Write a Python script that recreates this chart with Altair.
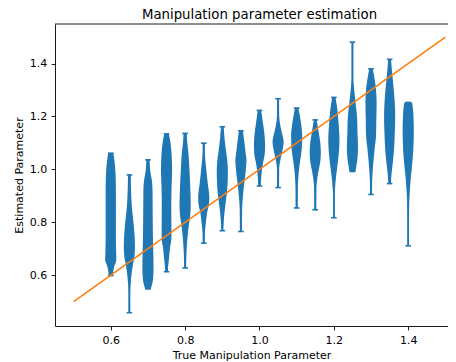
import altair as alt
import pandas as pd

# ---- data ----
TITLE = "Manipulation parameter estimation"

positions = [0.6, 0.65, 0.7, 0.75, 0.8, 0.85, 0.9, 0.95, 1.0,
             1.05, 1.1, 1.15, 1.2, 1.25, 1.3, 1.35, 1.4]

# estimated-parameter levels along each violin (top to bottom)
violin_y = [
    [1.061, 1.034, 0.985, 0.921, 0.733, 0.685, 0.658, 0.632, 0.609, 0.598],
    [0.979, 0.921, 0.858, 0.797, 0.760, 0.708, 0.669, 0.647, 0.609, 0.572, 0.534, 0.458],
    [1.036, 0.996, 0.959, 0.921, 0.827, 0.733, 0.677, 0.621, 0.583, 0.558, 0.548],
    [1.134, 1.109, 1.060, 0.996, 0.932, 0.857, 0.771, 0.733, 0.707, 0.658, 0.621, 0.613],
    [1.136, 1.109, 1.060, 0.996, 0.932, 0.872, 0.835, 0.808, 0.760, 0.707, 0.658, 0.627],
    [1.099, 1.060, 1.009, 0.947, 0.895, 0.872, 0.835, 0.782, 0.760, 0.721],
    [1.161, 1.116, 1.065, 1.027, 0.990, 0.952, 0.915, 0.865, 0.816, 0.778, 0.768],
    [1.146, 1.090, 1.053, 1.034, 1.015, 0.977, 0.940, 0.902, 0.854, 0.765],
    [1.223, 1.178, 1.140, 1.109, 1.083, 1.046, 1.027, 0.990, 0.952, 0.937],
    [1.267, 1.203, 1.166, 1.129, 1.104, 1.079, 1.054, 1.029, 1.004, 0.931],
    [1.232, 1.192, 1.154, 1.129, 1.079, 1.030, 0.992, 0.955, 0.929, 0.854],
    [1.187, 1.142, 1.104, 1.066, 1.029, 0.991, 0.954, 0.929, 0.847],
    [1.272, 1.222, 1.165, 1.115, 1.079, 1.027, 0.977, 0.940, 0.902, 0.817],
    [1.481, 1.342, 1.304, 1.253, 1.192, 1.128, 1.090, 1.041, 1.015, 0.992],
    [1.380, 1.342, 1.304, 1.253, 1.192, 1.128, 1.079, 1.027, 0.977, 0.952, 0.905],
    [1.416, 1.372, 1.322, 1.259, 1.196, 1.135, 1.071, 1.021, 0.984, 0.952, 0.946],
    [1.253, 1.222, 1.184, 1.146, 1.071, 1.021, 0.971, 0.921, 0.871, 0.808, 0.711],
]

# relative violin width (1 = widest) at those levels
violin_w = [
    [0.48, 0.65, 0.85, 0.92, 0.92, 0.97, 1.0, 0.6, 0.42, 0.4],
    [0.25, 0.3, 0.45, 0.75, 0.9, 1.0, 0.9, 0.7, 0.42, 0.25, 0.15, 0.15],
    [0.3, 0.4, 0.7, 0.82, 0.85, 0.9, 0.97, 1.0, 0.9, 0.65, 0.5],
    [0.4, 0.65, 0.9, 1.0, 0.9, 0.85, 0.88, 0.85, 0.65, 0.42, 0.25, 0.25],
    [0.3, 0.35, 0.6, 0.78, 0.92, 1.0, 0.95, 0.8, 0.5, 0.3, 0.2, 0.18],
    [0.18, 0.2, 0.42, 0.72, 1.0, 0.95, 0.6, 0.3, 0.2, 0.18],
    [0.25, 0.4, 0.7, 0.92, 1.0, 0.95, 0.85, 0.55, 0.3, 0.2, 0.18],
    [0.35, 0.7, 0.9, 1.0, 0.95, 0.78, 0.55, 0.38, 0.22, 0.18],
    [0.3, 0.6, 0.85, 0.97, 1.0, 0.85, 0.65, 0.4, 0.25, 0.22],
    [0.18, 0.2, 0.4, 0.8, 1.0, 0.85, 0.6, 0.35, 0.2, 0.18],
    [0.3, 0.65, 0.9, 1.0, 0.92, 0.6, 0.38, 0.25, 0.2, 0.18],
    [0.25, 0.6, 0.88, 1.0, 0.9, 0.55, 0.3, 0.2, 0.18],
    [0.3, 0.65, 0.88, 1.0, 0.95, 0.72, 0.42, 0.25, 0.15, 0.15],
    [0.15, 0.15, 0.3, 0.55, 0.85, 0.92, 1.0, 0.9, 0.72, 0.55],
    [0.3, 0.65, 0.88, 1.0, 0.95, 0.9, 0.65, 0.42, 0.25, 0.2, 0.18],
    [0.25, 0.42, 0.65, 0.9, 1.0, 0.92, 0.78, 0.55, 0.35, 0.25, 0.25],
    [0.7, 0.88, 0.97, 1.0, 0.9, 0.72, 0.48, 0.3, 0.18, 0.15, 0.15],
]

line_x = [0.5, 1.5]
line_y = [0.5, 1.5]

x_ticks = [0.6, 0.8, 1.0, 1.2, 1.4]
y_ticks = [0.6, 0.8, 1.0, 1.2, 1.4]

# ---- styling constants ----
W, H = 393, 302
TITLE_X = 204.5      # centre of the full (cropped) axes box, px from plot left
HALF_WIDTH = 0.015   # half of the violin width (x units)
CAP_HALF = 0.0075    # half length of the extrema caps
BLUE = "#1f77b4"
ORANGE = "#ff7f0e"
FONT = "DejaVu Sans"

rows = []
for p, ys, ws in zip(positions, violin_y, violin_w):
    for y, w in sorted(zip(ys, ws)):
        rows.append({"pos": p, "y": y,
                     "xl": p - w * HALF_WIDTH, "xr": p + w * HALF_WIDTH})
body_df = pd.DataFrame(rows)

ext_df = pd.DataFrame({
    "pos": positions,
    "ymin": [min(ys) for ys in violin_y],
    "ymax": [max(ys) for ys in violin_y],
})
ext_df["cl"] = ext_df["pos"] - CAP_HALF
ext_df["cr"] = ext_df["pos"] + CAP_HALF

line_df = pd.DataFrame({"x": line_x, "y": line_y})

xs = alt.Scale(domain=[0.45, 1.507], nice=False, zero=False)
ys_ = alt.Scale(domain=[0.4077, 1.5495], nice=False, zero=False)
xaxis = alt.Axis(title="True Manipulation Parameter", values=x_ticks, format=".1f",
                 grid=False, labelPadding=4.6, titlePadding=4)
yaxis = alt.Axis(title="Estimated Parameter", values=y_ticks, format=".1f",
                 grid=False, labelPadding=4.4, titlePadding=5)

body = alt.Chart(body_df).mark_area(
    orient="horizontal", interpolate="monotone", color=BLUE, opacity=1
).encode(
    y=alt.Y("y:Q", scale=ys_, axis=yaxis),
    x=alt.X("xl:Q", scale=xs, axis=xaxis, stack=None),
    x2="xr:Q",
    detail="pos:N",
)

rule_style = dict(color=BLUE, strokeWidth=1.6)
bars = alt.Chart(ext_df).mark_rule(**rule_style).encode(
    x=alt.X("pos:Q", scale=xs, axis=xaxis),
    y=alt.Y("ymin:Q", scale=ys_, axis=yaxis),
    y2="ymax:Q",
)
cap_lo = alt.Chart(ext_df).mark_rule(**rule_style).encode(
    x=alt.X("cl:Q", scale=xs, axis=xaxis),
    x2="cr:Q",
    y=alt.Y("ymin:Q", scale=ys_, axis=yaxis),
)
cap_hi = alt.Chart(ext_df).mark_rule(**rule_style).encode(
    x=alt.X("cl:Q", scale=xs, axis=xaxis),
    x2="cr:Q",
    y=alt.Y("ymax:Q", scale=ys_, axis=yaxis),
)
diag = alt.Chart(line_df).mark_line(color=ORANGE, strokeWidth=1.6).encode(
    x=alt.X("x:Q", scale=xs, axis=xaxis),
    y=alt.Y("y:Q", scale=ys_, axis=yaxis),
)
# top frame line of the axes box (right side lies beyond the picture)
top_spine = alt.Chart(pd.DataFrame({"k": [0]})).mark_rule(
    color="black", strokeWidth=0.9
).encode(x=alt.value(0), x2=alt.value(W), y=alt.value(0))

title_text = alt.Chart(pd.DataFrame({"t": [TITLE]})).mark_text(
    font=FONT, fontSize=13.3, color="black", align="center", baseline="alphabetic"
).encode(text="t:N", x=alt.value(TITLE_X), y=alt.value(-5.5))

chart = alt.layer(body, bars, cap_lo, cap_hi, diag, top_spine, title_text).properties(
    width=W,
    height=H,
    autosize=alt.AutoSizeParams(type="none"),
    padding={"left": 47, "top": 16, "right": 0, "bottom": 37},
).configure_axis(
    labelFont=FONT, labelFontSize=11, labelColor="black",
    titleFont=FONT, titleFontSize=11, titleFontWeight="normal", titleColor="black",
    tickColor="black", tickSize=3.9, tickWidth=0.9,
    domainColor="black", domainWidth=0.9,
).configure_view(stroke=None)

chart.save("out.html", embed_options={"renderer": "svg", "actions": False})
